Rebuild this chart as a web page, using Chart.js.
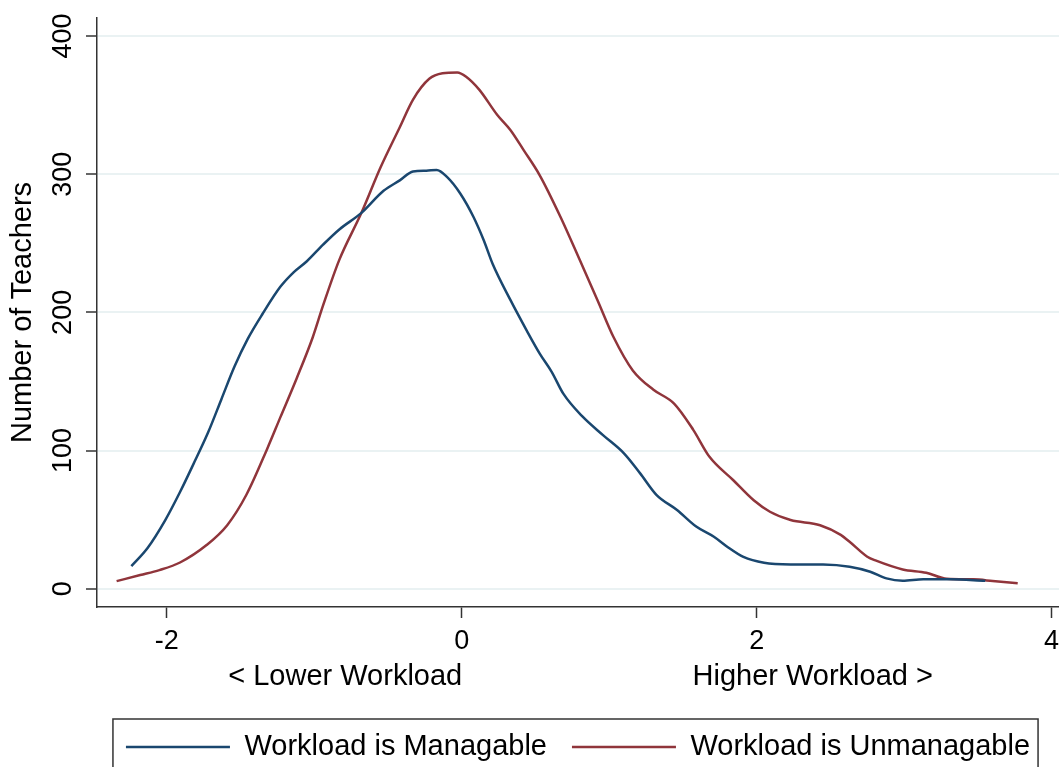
<!DOCTYPE html>
<html>
<head>
<meta charset="utf-8">
<script src="https://cdn.jsdelivr.net/npm/chart.js@4/dist/chart.umd.min.js"></script>
<style>
  html, body { margin: 0; padding: 0; background: #fff; }
  #wrap { width: 1059px; height: 767px; }
</style>
</head>
<body>
<div id="wrap"><canvas id="myChart" width="1059" height="767"></canvas></div>
<script>
"use strict";
// values
const managableX = [-2.24, -2.13, -2.01, -1.91, -1.82, -1.72, -1.63, -1.54, -1.45, -1.35, -1.23, -1.14, -1.05, -0.94, -0.83, -0.68, -0.53, -0.42, -0.33, -0.24, -0.17, -0.10, -0.01, 0.08, 0.15, 0.21, 0.33, 0.44, 0.53, 0.61, 0.69, 0.82, 0.96, 1.10, 1.21, 1.32, 1.46, 1.59, 1.71, 1.80, 1.91, 2.05, 2.23, 2.45, 2.63, 2.77, 2.88, 2.99, 3.13, 3.31, 3.55];
const managableY = [16.4, 29.5, 49.7, 70, 90, 113, 137, 161, 181, 199, 218.5, 229, 237, 249, 260, 272, 288, 295.5, 302, 302.5, 303, 298, 286, 269, 252, 235, 209, 187, 170, 157, 141, 124.5, 111, 98, 83.5, 68, 57, 45, 37.6, 30.4, 23, 18.8, 17.6, 17.5, 15.9, 12.3, 7.5, 5.8, 6.8, 6.8, 5.8];
const unmanagableX = [-2.34, -2.18, -2.05, -1.91, -1.73, -1.59, -1.46, -1.32, -1.23, -1.12, -1.01, -0.94, -0.83, -0.68, -0.55, -0.42, -0.33, -0.22, -0.13, -0.03, 0.03, 0.12, 0.24, 0.33, 0.42, 0.53, 0.67, 0.80, 0.92, 1.03, 1.16, 1.30, 1.44, 1.57, 1.68, 1.84, 1.98, 2.09, 2.23, 2.43, 2.57, 2.63, 2.75, 2.81, 2.99, 3.15, 3.29, 3.47, 3.60, 3.77];
const unmanagableY = [5.5, 9.9, 13.5, 19, 31.6, 46, 68, 101, 124, 152, 182, 205, 238, 272, 305, 334, 354, 369, 373, 373.6, 370.5, 361, 343, 332, 317.4, 299, 269, 238, 209, 182, 158, 144, 134, 115, 95.5, 78.7, 64, 55.7, 49.7, 46, 39, 34, 23.2, 20.3, 14, 11.6, 7.2, 6.8, 5.6, 3.9];
const xTicks = [-2, 0, 2, 4];
const yTicks = [0, 100, 200, 300, 400];
const sideLabels = ["< Lower Workload", "Higher Workload >"];
const sideLabelAt = [-0.79, 2.38];
const seriesNames = ["Workload is Managable", "Workload is Unmanagable"];

const FONT = "'Liberation Sans', Arial, sans-serif";
const navy = "#1a476f";
const maroon = "#90353b";
const axisColor = "#333333";
const gridColor = "#eaf2f3";

function toPoints(xs, ys) {
    const pts = [];
    for (let i = 0; i < xs.length; i++) {
        pts.push({ x: xs[i], y: ys[i] });
    }
    return pts;
}

// frame round the legend, like the Stata one
const legendFrame = {
    id: "legendFrame",
    afterDraw(chart) {
        const boxes = chart.legend.legendHitBoxes;
        if (!boxes || boxes.length < 2) return;
        const ctx = chart.ctx;
        const left = boxes[0].left - 13;
        const top = boxes[0].top - 13.5;
        const right = boxes[1].left + boxes[1].width + 8;
        ctx.save();
        ctx.strokeStyle = axisColor;
        ctx.lineWidth = 1.5;
        ctx.strokeRect(left, top, right - left, chart.height + 10 - top);
        ctx.restore();
    }
};

const ctx = document.getElementById("myChart");
new Chart(ctx, {
    type: "line",
    data: {
        datasets: [{
            label: seriesNames[0],
            data: toPoints(managableX, managableY),
            borderColor: navy,
            backgroundColor: navy,
            borderWidth: 2.5,
            pointRadius: 0,
            cubicInterpolationMode: "monotone",
            fill: false
        }, {
            label: seriesNames[1],
            data: toPoints(unmanagableX, unmanagableY),
            borderColor: maroon,
            backgroundColor: maroon,
            borderWidth: 2.5,
            pointRadius: 0,
            cubicInterpolationMode: "monotone",
            fill: false
        }]
    },
    options: {
        responsive: false,
        animation: false,
        events: [],
        layout: { padding: { top: 18, right: 0, bottom: -4.5, left: 0 } },
        scales: {
            x: {
                type: "linear",
                min: -2.473,
                max: 4.05,
                afterBuildTicks: (axis) => { axis.ticks = xTicks.map(v => ({ value: v })); },
                afterFit: (axis) => { axis.height = 50; axis.paddingLeft = 0; axis.paddingRight = 0; },
                ticks: {
                    color: "#000",
                    font: { family: FONT, size: 27 },
                    padding: 7,
                    maxRotation: 0,
                    autoSkip: false
                },
                grid: {
                    drawOnChartArea: false,
                    drawTicks: true,
                    tickLength: 11,
                    tickColor: axisColor,
                    tickWidth: 1.5
                },
                border: { display: true, color: axisColor, width: 1.5 }
            },
            x2: {
                type: "linear",
                position: "bottom",
                weight: 1,
                min: -2.473,
                max: 4.05,
                afterBuildTicks: (axis) => { axis.ticks = sideLabelAt.map(v => ({ value: v })); },
                afterFit: (axis) => { axis.height = 50.5; axis.paddingLeft = 0; axis.paddingRight = 0; },
                ticks: {
                    color: "#000",
                    font: { family: FONT, size: 29 },
                    padding: 2.6,
                    maxRotation: 0,
                    autoSkip: false,
                    callback: (value, index) => sideLabels[index]
                },
                grid: { display: false, drawTicks: false, tickLength: 0 },
                border: { display: false }
            },
            y: {
                min: -13.2,
                max: 413,
                afterBuildTicks: (axis) => { axis.ticks = yTicks.map(v => ({ value: v })); },
                afterFit: (axis) => { axis.width = 97; axis.paddingTop = 0; axis.paddingBottom = 0; },
                ticks: {
                    color: "#000",
                    font: { family: FONT, size: 27 },
                    padding: 0,
                    minRotation: 90,
                    maxRotation: 90,
                    crossAlign: "center",
                    autoSkip: false
                },
                grid: {
                    color: gridColor,
                    lineWidth: 2,
                    drawTicks: true,
                    tickLength: 11,
                    tickColor: axisColor,
                    tickWidth: 1.5
                },
                border: { display: true, color: axisColor, width: 1.5 },
                title: {
                    display: true,
                    text: "Number of Teachers",
                    color: "#000",
                    font: { family: FONT, size: 29 },
                    padding: { top: 5.6, bottom: 0 }
                }
            }
        },
        plugins: {
            title: { display: false },
            tooltip: { enabled: false },
            legend: {
                display: true,
                position: "bottom",
                fullSize: false,
                labels: {
                    color: "#000",
                    font: { family: FONT, size: 29 },
                    usePointStyle: true,
                    pointStyle: "line",
                    pointStyleWidth: 104,
                    padding: 25
                }
            }
        }
    },
    plugins: [legendFrame]
});
</script>
</body>
</html>
